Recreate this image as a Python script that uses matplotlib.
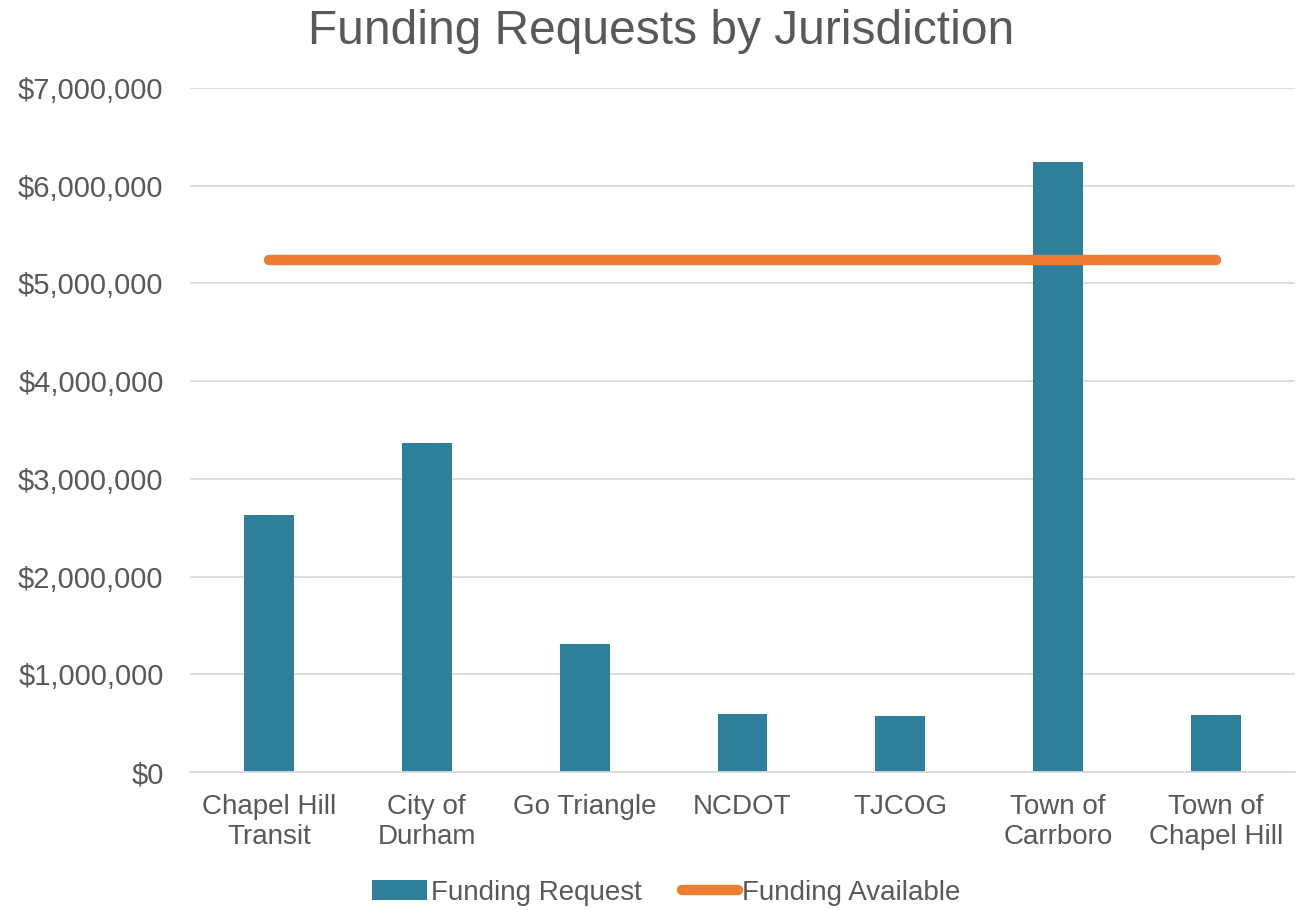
import matplotlib.pyplot as plt
from matplotlib.ticker import FuncFormatter

# --- Data ---
CATEGORIES = ["Chapel Hill\nTransit", "City of\nDurham", "Go Triangle", "NCDOT",
              "TJCOG", "Town of\nCarrboro", "Town of\nChapel Hill"]
FUNDING_REQUEST = [2634000, 3372000, 1315000, 593000, 575000, 6238000, 587000]
FUNDING_AVAILABLE = [5243000] * len(CATEGORIES)
Y_TICKS = [0, 1000000, 2000000, 3000000, 4000000, 5000000, 6000000, 7000000]

BAR_COLOR = "#2E7F9C"
LINE_COLOR = "#ED7D31"
TEXT_COLOR = "#595959"
GRID_COLOR = "#D9D9D9"

plt.rcParams['font.family'] = ['Liberation Sans', 'DejaVu Sans']

fig = plt.figure(figsize=(13.01, 9.10), dpi=100)
ax = fig.add_axes([190 / 1301, 1 - 772 / 910, (1295 - 190) / 1301, (772 - 88) / 910])

x = list(range(len(CATEGORIES)))
bars = ax.bar(x, FUNDING_REQUEST, width=0.315, color=BAR_COLOR, label="Funding Request", zorder=2)
line, = ax.plot(x, FUNDING_AVAILABLE, color=LINE_COLOR, linewidth=7.5, solid_capstyle='round',
                label="Funding Available", zorder=3)

ax.set_xlim(-0.5, len(CATEGORIES) - 0.5)
ax.set_ylim(0, 7000000)
ax.set_yticks(Y_TICKS)
ax.yaxis.set_major_formatter(FuncFormatter(lambda v, p: f"${v:,.0f}"))
ax.set_xticks(x)
ax.set_xticklabels(CATEGORIES, fontsize=20, color=TEXT_COLOR, linespacing=1.2)
ax.tick_params(axis='y', labelsize=21, labelcolor=TEXT_COLOR, length=0, pad=19)
ax.tick_params(axis='x', length=0, pad=16)

ax.grid(axis='y', color=GRID_COLOR, linewidth=1.3, zorder=0)
ax.set_axisbelow(True)
for side in ['top', 'right', 'left']:
    ax.spines[side].set_visible(False)
ax.spines['bottom'].set_color(GRID_COLOR)
ax.spines['bottom'].set_linewidth(1.3)

fig.text(0.508, 0.965, "Funding Requests by Jurisdiction", ha='center', va='center',
         fontsize=34.5, color=TEXT_COLOR)

leg = fig.legend([bars, line], ["Funding Request", "Funding Available"],
                 loc='center', bbox_to_anchor=(0.512, 0.019), ncol=2, frameon=False,
                 fontsize=20, handlelength=2.0, handletextpad=0.15, columnspacing=1.45)
for t in leg.get_texts():
    t.set_color(TEXT_COLOR)

fig.savefig("out.png", dpi=100)
